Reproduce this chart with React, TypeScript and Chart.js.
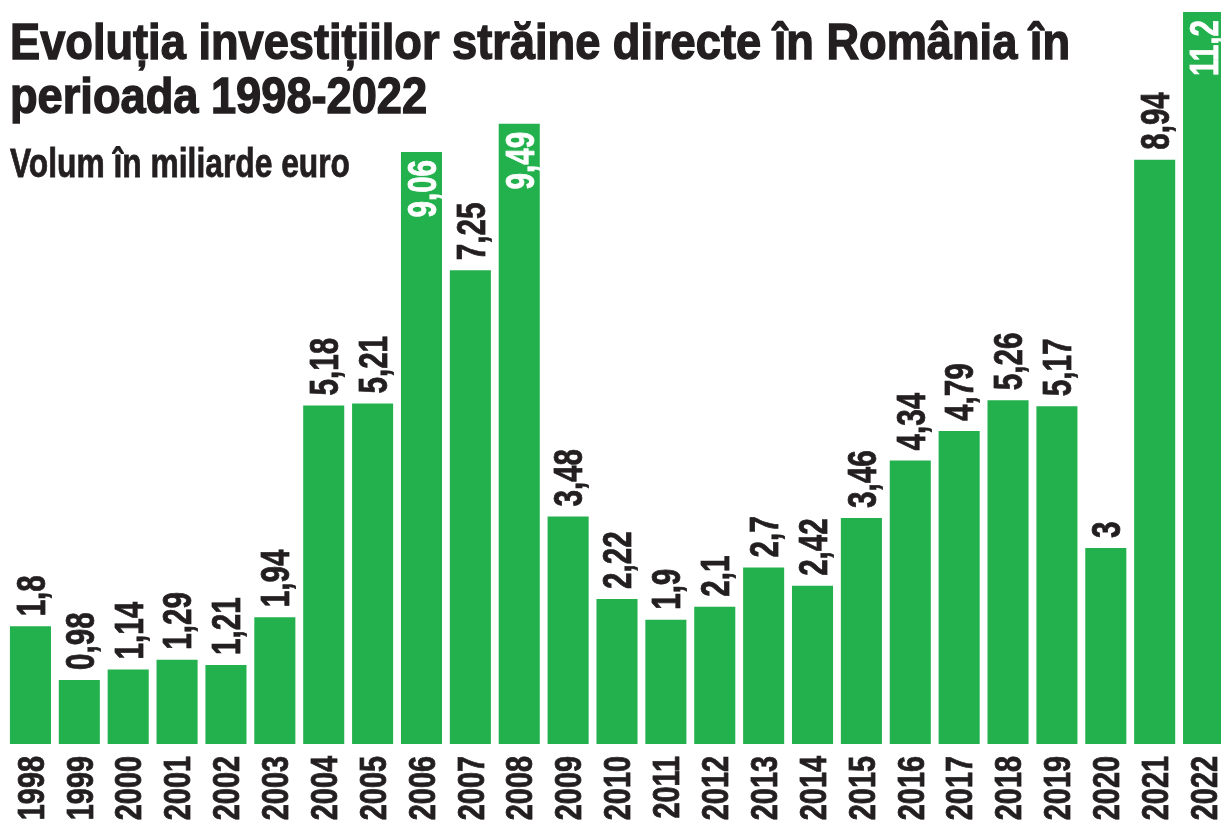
import React, { useEffect, useRef } from 'react';
import { Chart, registerables } from 'chart.js';

Chart.register(...registerables);

// ---- data ----
const years: string[] = [
  '1998', '1999', '2000', '2001', '2002', '2003', '2004', '2005', '2006', '2007',
  '2008', '2009', '2010', '2011', '2012', '2013', '2014', '2015', '2016', '2017',
  '2018', '2019', '2020', '2021', '2022',
];
const values: number[] = [
  1.8, 0.98, 1.14, 1.29, 1.21, 1.94, 5.18, 5.21, 9.06, 7.25,
  9.49, 3.48, 2.22, 1.9, 2.1, 2.7, 2.42, 3.46, 4.34, 4.79,
  5.26, 5.17, 3, 8.94, 11.2,
];
const insideLabelYears: string[] = ['2006', '2008', '2022'];
const titleLines: string[] = [
  'Evoluția investițiilor străine directe în România în',
  'perioada 1998-2022',
];
const subtitle = 'Volum în miliarde euro';

// ---- styles ----
const GREEN = '#22b14c';
const INK = '#231f20';
const FONT = '"Liberation Sans", Arial, sans-serif';

const formatValue = (v: number) => String(v).replace('.', ',');

// draws rotated (bottom-to-top), horizontally condensed text
function drawRotated(
  ctx: CanvasRenderingContext2D,
  text: string,
  x: number,
  y: number,
  align: 'left' | 'right',
  offset: number,
  size: number,
  squeeze: number,
  color: string,
) {
  const capH = size * 0.716;
  ctx.save();
  ctx.translate(x, y);
  ctx.rotate(-Math.PI / 2);
  ctx.scale(squeeze, 1);
  ctx.font = `bold ${size}px ${FONT}`;
  ctx.textAlign = align;
  ctx.textBaseline = 'alphabetic';
  ctx.fillStyle = color;
  ctx.strokeStyle = color;
  ctx.lineWidth = 0.8;
  ctx.fillText(text, offset / squeeze, capH / 2);
  ctx.strokeText(text, offset / squeeze, capH / 2);
  ctx.restore();
}

const valueLabelPlugin = {
  id: 'valueLabels',
  afterDatasetsDraw(chart: any) {
    const ctx: CanvasRenderingContext2D = chart.ctx;
    const meta = chart.getDatasetMeta(0);
    const xScale = chart.scales.x;
    const yScale = chart.scales.y;
    const base = yScale.getPixelForValue(0);
    meta.data.forEach((bar: any, i: number) => {
      const inside = insideLabelYears.includes(years[i]);
      const text = formatValue(values[i]);
      if (inside) {
        drawRotated(ctx, text, bar.x, bar.y, 'right', -8, 40, 0.74, '#ffffff');
      } else {
        drawRotated(ctx, text, bar.x, bar.y, 'left', 10, 40, 0.74, INK);
      }
      // category (year) label from the x scale
      const lx = xScale.getPixelForValue(i);
      drawRotated(ctx, String(xScale.getLabelForValue(i)), lx, base, 'right', -12, 37, 0.78, INK);
    });
  },
};

const headingPlugin = {
  id: 'heading',
  afterDraw(chart: any) {
    const ctx: CanvasRenderingContext2D = chart.ctx;
    ctx.save();
    ctx.fillStyle = INK;
    ctx.strokeStyle = INK;
    ctx.textAlign = 'left';
    ctx.textBaseline = 'alphabetic';
    // title
    ctx.font = `bold 50px ${FONT}`;
    const w1 = ctx.measureText(titleLines[0]).width;
    const sx = 1060 / w1;
    ctx.save();
    ctx.scale(sx, 1);
    ctx.lineWidth = 1.4;
    ctx.fillText(titleLines[0], 10 / sx, 59);
    ctx.strokeText(titleLines[0], 10 / sx, 59);
    ctx.fillText(titleLines[1], 10 / sx, 113);
    ctx.strokeText(titleLines[1], 10 / sx, 113);
    ctx.restore();
    // subtitle
    ctx.font = `bold 41px ${FONT}`;
    const w2 = ctx.measureText(subtitle).width;
    const sx2 = 340 / w2;
    ctx.save();
    ctx.scale(sx2, 1);
    ctx.lineWidth = 0.8;
    ctx.fillText(subtitle, 10 / sx2, 177);
    ctx.strokeText(subtitle, 10 / sx2, 177);
    ctx.restore();
    ctx.restore();
  },
};

export default function App() {
  const canvasRef = useRef<HTMLCanvasElement | null>(null);

  useEffect(() => {
    if (!canvasRef.current) return;
    const chart = new Chart(canvasRef.current, {
      type: 'bar',
      data: {
        labels: years,
        datasets: [
          {
            data: values,
            backgroundColor: GREEN,
            borderWidth: 0,
            categoryPercentage: 1,
            barPercentage: 0.84,
          },
        ],
      },
      options: {
        responsive: false,
        animation: false,
        devicePixelRatio: 1,
        layout: { padding: { left: 6, right: 0, top: 0, bottom: 80 } },
        plugins: {
          legend: { display: false },
          title: { display: false },
          tooltip: { enabled: false },
        },
        scales: {
          x: {
            display: false,
          },
          y: {
            display: false,
            min: 0,
            max: 11.385,
          },
        },
      },
      plugins: [valueLabelPlugin, headingPlugin],
    } as any);
    return () => chart.destroy();
  }, []);

  return (
    <div
      style={{
        position: 'fixed',
        left: 0,
        top: 0,
        width: 1221,
        height: 824,
        overflow: 'hidden',
        background: '#ffffff',
      }}
    >
      <canvas
        ref={canvasRef}
        width={1228}
        height={824}
        style={{ display: 'block', width: 1228, height: 824 }}
      />
    </div>
  );
}
